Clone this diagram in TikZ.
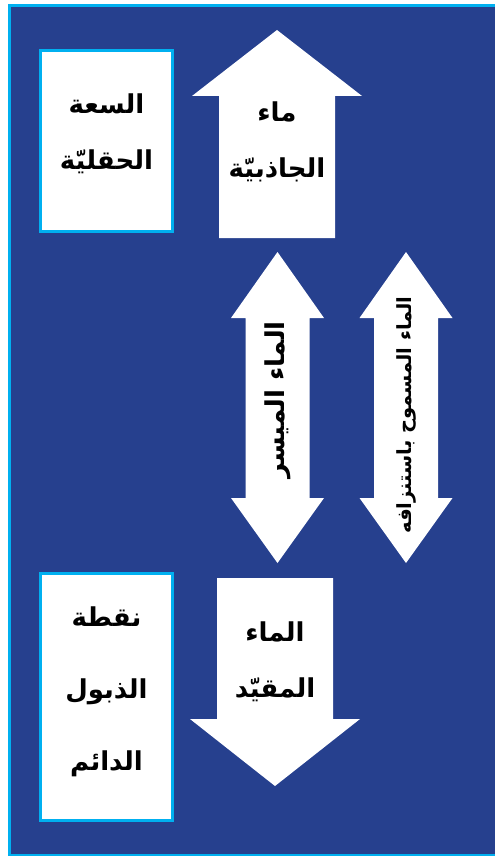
\documentclass[tikz,border=0pt]{standalone}
\usepackage{fontspec}
\usetikzlibrary{positioning}
\TeXXeTstate=1
\newfontfamily\arabicfont[Script=Arabic]{DejaVu Sans}
\definecolor{bgblue}{RGB}{38,64,142}
\definecolor{edgecyan}{RGB}{0,176,240}
\newcommand{\artext}[1]{\beginR #1\endR}

\begin{document}
\begin{tikzpicture}[
    x=1pt, y=-1pt,
    infobox/.style={draw=edgecyan, line width=3pt, fill=white, minimum width=132pt, inner sep=0pt},
    blockarrow/.style={fill=white},
    label/.style={align=center, text=black, inner sep=0pt, font=\arabicfont\bfseries\fontsize{26}{56}\selectfont},
    sidelabel/.style={rotate=90, text=black, inner sep=0pt, font=\arabicfont\bfseries\fontsize{19.5}{22}\selectfont}
]
   \useasboundingbox (0,0) rectangle (495,856);
   \clip (0,0) rectangle (495,856);
   \fill[white] (0,0) rectangle (495,856);

   % Frame (its right side runs off the page)
   \fill[bgblue] (9.5,5.5) rectangle (495,855.5);
   \draw[edgecyan, line width=3pt] (495,5.5) -- (9.5,5.5) -- (9.5,855.5) -- (495,855.5);

   % Boxes
   \node[infobox, minimum height=181pt] (fieldcap) at (106.5,141) {};
   \node[infobox, minimum height=247pt] (wilt) at (106.5,697) {};

   % Arrows
   \fill[blockarrow] (219,238) -- (219,96) -- (192,96) -- (277,30)
      -- (362,96) -- (335,96) -- (335,238) -- cycle;
   \fill[blockarrow] (217,578) -- (333,578) -- (333,719) -- (360,719)
      -- (275,786) -- (190,719) -- (217,719) -- cycle;
   \foreach \cx in {277.5,406} {
      \fill[blockarrow] (\cx,252) -- ++(46.5,66) -- ++(-14.5,0) -- ++(0,180)
         -- ++(14.5,0) -- (\cx,563) -- ++(-46.5,-65) -- ++(14.5,0) -- ++(0,-180)
         -- ++(-14.5,0) -- cycle;
   }

   % Labels
   \node[label] (capacity) at (106.5,134) {\artext{السعة}\\\artext{الحقليّة}};
   \node[label, font=\arabicfont\bfseries\fontsize{26}{72}\selectfont] (wilting) at (106.5,692)
      {\artext{نقطة}\\\artext{الذبول}\\\artext{الدائم}};
   \node[label] (gravity) at (277,142) {\artext{ماء}\\\artext{الجاذبيّة}};
   \node[label] (bound) at (275,662) {\artext{الماء}\\\artext{المقيّد}};
   \node[sidelabel, font=\arabicfont\bfseries\fontsize{26}{28}\selectfont] (available) at (277.5,400) {\artext{الماء الميسر}};
   \node[sidelabel] (allowed) at (406,415) {\artext{الماء المسموح باستنزافه}};
\end{tikzpicture}
\end{document}
